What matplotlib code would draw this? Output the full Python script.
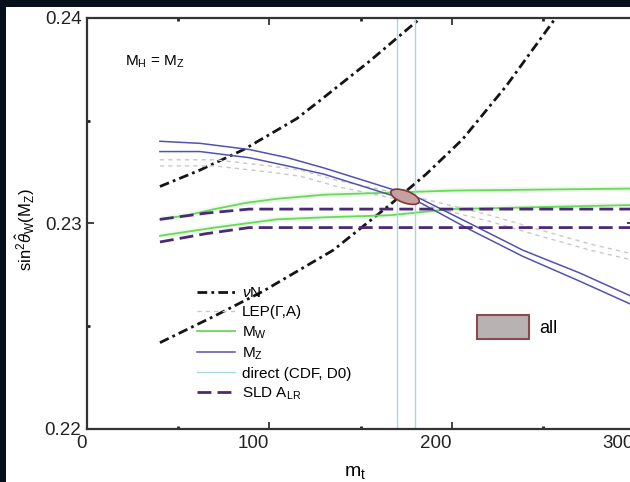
import matplotlib
matplotlib.use("Agg")
import matplotlib.pyplot as plt
import matplotlib.transforms as mtransforms
from matplotlib.patches import Ellipse, Patch, Rectangle
from matplotlib.lines import Line2D
from matplotlib.ticker import MultipleLocator

plt.rcParams['font.family'] = ['Liberation Sans', 'DejaVu Sans']
plt.rcParams['mathtext.fontset'] = 'custom'
plt.rcParams['mathtext.rm'] = 'Liberation Sans'
plt.rcParams['mathtext.it'] = 'Liberation Sans:italic'
plt.rcParams['mathtext.sf'] = 'Liberation Sans'

# nu-N band (two edges)
nun_hi_mt = [40, 62, 86, 115, 128, 155, 183]
nun_hi = [0.2318, 0.2326, 0.2336, 0.2351, 0.2360, 0.2379, 0.2400]
nun_lo_mt = [40, 70, 96.5, 135, 166, 186, 206, 230, 257]
nun_lo = [0.2242, 0.2255, 0.2267, 0.2287, 0.2309, 0.2324, 0.2341, 0.2367, 0.2400]

# LEP(Gamma, A)
lep_mt = [40, 70, 100, 117, 137, 180, 221, 248, 276, 300]
lep_hi = [0.2331, 0.2331, 0.2328, 0.2326, 0.2321, 0.2313, 0.2304, 0.2297, 0.2290, 0.2285]
lep_lo = [0.2328, 0.2328, 0.2325, 0.2323, 0.2318, 0.2310, 0.2301, 0.2294, 0.2287, 0.2282]

# M_W
mw_mt = [40, 55, 70, 87, 104, 130, 166, 200, 300]
mw_hi = [0.2302, 0.2304, 0.2307, 0.2310, 0.2312, 0.2314, 0.2315, 0.2316, 0.2317]
mw_lo = [0.2294, 0.2296, 0.2298, 0.2300, 0.2302, 0.2303, 0.2304, 0.2307, 0.2309]

# M_Z
mz_mt = [40, 62, 89, 110, 130, 148, 166, 183, 210, 239, 270, 300]
mz_hi = [0.2340, 0.2339, 0.2336, 0.2332, 0.2327, 0.2322, 0.2317, 0.2312, 0.2300, 0.2287, 0.2276, 0.2264]
mz_lo = [0.2335, 0.2335, 0.2332, 0.2328, 0.2324, 0.2319, 0.2314, 0.2310, 0.2297, 0.2284, 0.2272, 0.2260]

# direct top mass (CDF, D0)
direct_mt = [170, 180]

# SLD A_LR
sld_mt = [40, 65, 89, 110, 300]
sld_hi = [0.2302, 0.2305, 0.2307, 0.2307, 0.2307]
sld_lo = [0.2291, 0.2295, 0.2298, 0.2298, 0.2298]

# combined fit
all_mt = 174.4
all_s2 = 0.2313

fig = plt.figure(figsize=(6.3, 4.82), dpi=100, facecolor='white')
ax = fig.add_axes([0.1381, 0.110, 0.8683, 0.8527])

dark = '#06101a'
fig.patches.append(Rectangle((0, 0), 6 / 630, 1, transform=fig.transFigure,
                             facecolor=dark, edgecolor='none', zorder=10))
fig.patches.append(Rectangle((0, 1 - 7 / 482), 1, 7 / 482, transform=fig.transFigure,
                             facecolor=dark, edgecolor='none', zorder=10))

c_nun = '#151515'
c_lep = '#c8c8c8'
c_mw = '#6ad85a'
c_mz = '#5252b0'
c_dir = '#a8d8e8'
c_sld = '#4a2a78'

for m, s in [(nun_hi_mt, nun_hi), (nun_lo_mt, nun_lo)]:
    ax.plot(m, s, color=c_nun, lw=2, dashes=[3.5, 1.5, 1, 1.5])
for s in (lep_hi, lep_lo):
    ax.plot(lep_mt, s, color=c_lep, lw=1, dashes=[3, 3])
for s in (mw_hi, mw_lo):
    ax.plot(mw_mt, s, color=c_mw, lw=4, alpha=0.12, solid_capstyle='butt')
    ax.plot(mw_mt, s, color=c_mw, lw=1.3)
for s in (mz_hi, mz_lo):
    ax.plot(mz_mt, s, color=c_mz, lw=1.1)
for m in direct_mt:
    ax.axvline(m, color=c_dir, lw=1)
for s in (sld_hi, sld_lo):
    ax.plot(sld_mt, s, color=c_sld, lw=2, dashes=[5, 2.2])

ell_tr = fig.dpi_scale_trans + mtransforms.ScaledTranslation(all_mt, all_s2, ax.transData)
ax.add_patch(Ellipse((0, 0), 0.30, 0.12, angle=-20, transform=ell_tr,
                     facecolor='#c9a0a0', edgecolor='#7a3a3a', lw=1.2, zorder=5))

ax.set_xlim(0, 300)
ax.set_ylim(0.22, 0.24)
ax.xaxis.set_major_locator(MultipleLocator(100))
ax.xaxis.set_minor_locator(MultipleLocator(50))
ax.yaxis.set_major_locator(MultipleLocator(0.01))
ax.yaxis.set_minor_locator(MultipleLocator(0.005))
ax.tick_params(which='both', direction='in', top=True, right=True, colors='#222222')
ax.tick_params(which='major', length=5, width=1.2, labelsize=13.5, pad=4)
ax.tick_params(which='minor', length=2, width=2)
ax.set_xticks([0, 100, 200, 300])
ax.set_xticklabels(['0', '100', '200', '300'], ha='right')
ax.set_yticks([0.22, 0.23, 0.24])
ax.set_yticklabels(['0.22', '0.23', '0.24'])
for sp in ax.spines.values():
    sp.set_linewidth(1.6)
    sp.set_color('#333333')

ax.set_xlabel(r'm$_\mathrm{t}$', fontsize=14)
ax.xaxis.set_label_coords(0.49, -0.085)
ax.set_ylabel(r'sin$^2\hat{\theta}_\mathrm{W}$(M$_\mathrm{Z}$)', fontsize=12)
ax.yaxis.set_label_coords(-0.092, 0.484)

ax.text(0.069, 0.893, r'M$_\mathrm{H}$ = M$_\mathrm{Z}$', transform=ax.transAxes,
        fontsize=11, ha='left', va='center')

handles = [
    Line2D([], [], color=c_nun, lw=2, dashes=[3.5, 1.5, 1, 1.5]),
    Line2D([], [], color=c_lep, lw=1, dashes=[3, 3]),
    Line2D([], [], color=c_mw, lw=1.3),
    Line2D([], [], color=c_mz, lw=1.1),
    Line2D([], [], color=c_dir, lw=1),
    Line2D([], [], color=c_sld, lw=2, dashes=[5, 2.2]),
]
labels = [r'$\nu$N', 'LEP(Γ,A)', r'M$_\mathrm{W}$', r'M$_\mathrm{Z}$',
          'direct (CDF, D0)', r'SLD A$_\mathrm{LR}$']
leg = ax.legend(handles, labels, loc='upper left', bbox_to_anchor=(0.201, 0.347),
                frameon=False, fontsize=11, borderpad=0, borderaxespad=0,
                handlelength=2.5, handletextpad=0.45, labelspacing=0.32)
ax.add_artist(leg)

ax.legend([Patch(facecolor='#b8b2b2', edgecolor='#8a4a4a', lw=1.5)], ['all'],
          loc='center left', bbox_to_anchor=(0.713, 0.248), frameon=False,
          fontsize=13, borderpad=0, borderaxespad=0, handlelength=2.9,
          handleheight=1.6, handletextpad=0.55)

fig.savefig('out.png', dpi=100, facecolor='white')
